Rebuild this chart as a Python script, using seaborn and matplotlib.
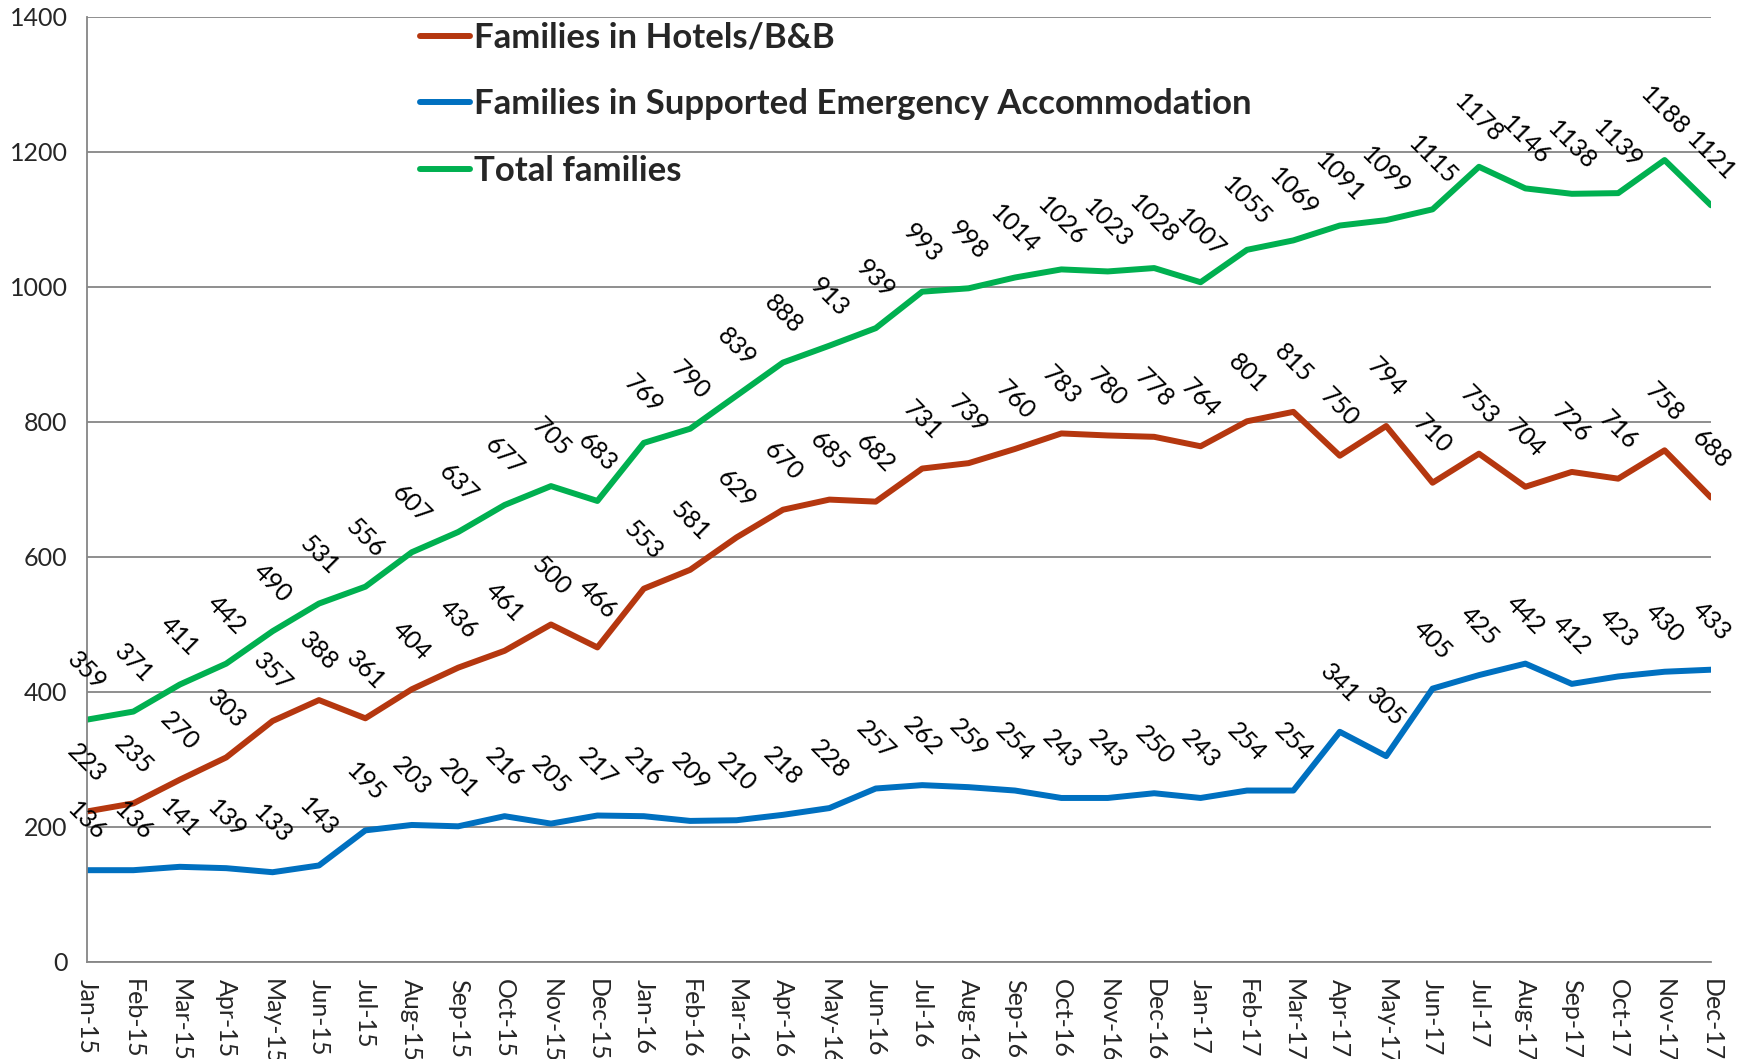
import matplotlib
matplotlib.use('Agg')
import matplotlib.pyplot as plt
import seaborn as sns
import pandas as pd

# Monthly counts, Jan-15 .. Dec-17
months = ['Jan-15', 'Feb-15', 'Mar-15', 'Apr-15', 'May-15', 'Jun-15', 'Jul-15', 'Aug-15',
          'Sep-15', 'Oct-15', 'Nov-15', 'Dec-15', 'Jan-16', 'Feb-16', 'Mar-16', 'Apr-16',
          'May-16', 'Jun-16', 'Jul-16', 'Aug-16', 'Sep-16', 'Oct-16', 'Nov-16', 'Dec-16',
          'Jan-17', 'Feb-17', 'Mar-17', 'Apr-17', 'May-17', 'Jun-17', 'Jul-17', 'Aug-17',
          'Sep-17', 'Oct-17', 'Nov-17', 'Dec-17']

hotels = [223, 235, 270, 303, 357, 388, 361, 404, 436, 461, 500, 466,
          553, 581, 629, 670, 685, 682, 731, 739, 760, 783, 780, 778,
          764, 801, 815, 750, 794, 710, 753, 704, 726, 716, 758, 688]

sea = [136, 136, 141, 139, 133, 143, 195, 203, 201, 216, 205, 217,
       216, 209, 210, 218, 228, 257, 262, 259, 254, 243, 243, 250,
       243, 254, 254, 341, 305, 405, 425, 442, 412, 423, 430, 433]

total = [359, 371, 411, 442, 490, 531, 556, 607, 637, 677, 705, 683,
         769, 790, 839, 888, 913, 939, 993, 998, 1014, 1026, 1023, 1028,
         1007, 1055, 1069, 1091, 1099, 1115, 1178, 1146, 1138, 1139, 1188, 1121]

series_names = ['Families in Hotels/B&B',
                'Families in Supported Emergency Accommodation',
                'Total families']
colors = ['#B5370F', '#0070C0', '#00B050']

# long-form table for seaborn
frames = []
for name, vals in zip(series_names, [hotels, sea, total]):
    frames.append(pd.DataFrame({'idx': range(len(months)), 'value': vals, 'series': name}))
df = pd.concat(frames, ignore_index=True)

sns.set_style('white')
plt.rcParams['font.family'] = ['Lato', 'DejaVu Sans']

fig = plt.figure(figsize=(17.5, 10.59), dpi=100)
ax = fig.add_axes([0.0497, 0.0916, 0.928, 0.8924])

sns.lineplot(data=df, x='idx', y='value', hue='series', hue_order=series_names,
             palette=colors, linewidth=4.3, ax=ax, legend=True)

# data labels
for name, vals in zip(series_names, [hotels, sea, total]):
    for i, v in enumerate(vals):
        ax.annotate(str(v), (i, v), xytext=(0, 35), textcoords='offset points',
                    ha='center', va='center', rotation=-45, fontsize=18,
                    color='black', annotation_clip=False)

ax.set_xlim(0, len(months) - 1)
ax.set_ylim(0, 1400)
ax.set_yticks(range(0, 1401, 200))
ax.set_xticks(range(len(months)))
ax.set_xticklabels(months, rotation=270, fontsize=18)
ax.tick_params(axis='y', labelsize=18, length=6, width=1.3, color='#868686', pad=8)
ax.tick_params(axis='x', length=6, width=1.3, color='#868686', pad=6, direction='out')
ax.set_xlabel('')
ax.set_ylabel('')

ax.yaxis.grid(True, color='#868686', linewidth=1.3)
ax.set_axisbelow(True)
for s in ['top', 'right']:
    ax.spines[s].set_visible(False)
for s in ['left', 'bottom']:
    ax.spines[s].set_color('#868686')
    ax.spines[s].set_linewidth(1.3)

leg = ax.legend(loc='upper left', bbox_to_anchor=(0.205, 0.995), frameon=False,
                prop={'weight': 'bold', 'size': 25}, handlelength=1.45,
                handletextpad=0.12, labelspacing=1.0, borderpad=0, borderaxespad=0)
for line in leg.get_lines():
    line.set_linewidth(4.3)

plt.savefig('out.png', dpi=100)
